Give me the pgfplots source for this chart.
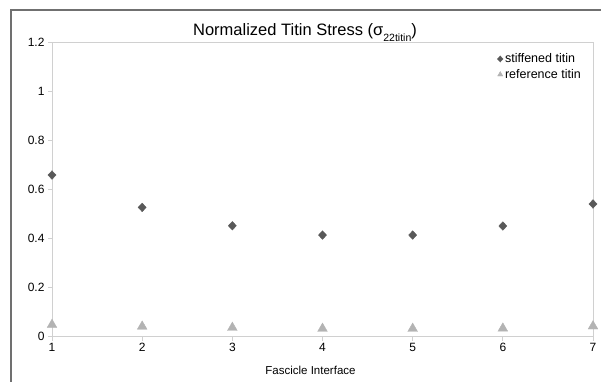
\documentclass[border=0pt]{standalone}
\usepackage{pgfplots}
\pgfplotsset{compat=1.18}
\usepackage{fontspec}
\setmainfont{Liberation Sans}
\definecolor{stiff}{HTML}{595959}
\definecolor{refc}{HTML}{B3B3B3}
\definecolor{axc}{HTML}{D0D0D0}
\definecolor{framec}{HTML}{707070}
\begin{document}
\begin{tikzpicture}
\useasboundingbox (0pt,0pt) rectangle (601pt,381pt);
\draw[framec, line width=2pt] (11pt,-20pt) -- (11pt,371pt) -- (640pt,371pt);
\node[font=\fontsize{16.5}{18}\selectfont, anchor=base, inner sep=0pt] at (305pt,345pt) {Normalized Titin Stress (σ\raisebox{-6pt}{\fontsize{10.5}{12}\selectfont 22titin})};
\node[font=\fontsize{11.5}{13}\selectfont, anchor=base, inner sep=0pt] at (310.5pt,7pt) {Fascicle Interface};
\begin{axis}[
  scale only axis,
  width=541pt, height=294pt,
  at={(52pt,44.5pt)}, anchor=south west,
  xmin=1, xmax=7, ymin=0, ymax=1.2,
  xtick={1,...,7},
  ytick={0,0.2,0.4,0.6,0.8,1,1.2},
  axis line style={axc, line width=0.8pt},
  tick style={axc, line width=0.8pt},
  tick align=outside,
  major tick length=4pt,
  xtick pos=bottom, ytick pos=left,
  ticklabel style={font=\fontsize{12}{14}\selectfont, text=black},
  xticklabel style={yshift=1pt},
  /pgf/number format/assume math mode=true,
  clip=false,
  legend style={at={(1,1)}, anchor=north east, xshift=-9pt, yshift=-8pt, draw=none, fill=none,
    font=\fontsize{12.5}{14}\selectfont, row sep=1pt,
    legend cell align=left, inner sep=1pt},
  legend image code/.code={\draw[#1, mark size=3pt] plot coordinates {(0.1cm,0cm)};},
]
\addplot[only marks, mark=diamond*, mark size=4.3pt, color=stiff, mark options={fill=stiff, draw=stiff, xscale=1.25}]
  coordinates {(1,0.659) (2,0.527) (3,0.452) (4,0.414) (5,0.414) (6,0.451) (7,0.541)};
\addlegendentry{stiffened titin}
\addplot[only marks, mark=triangle*, mark size=5.6pt, color=refc, mark options={fill=refc, draw=refc}]
  coordinates {(1,0.048) (2,0.041) (3,0.036) (4,0.032) (5,0.032) (6,0.033) (7,0.042)};
\addlegendentry{reference titin}
\end{axis}
\end{tikzpicture}
\end{document}
